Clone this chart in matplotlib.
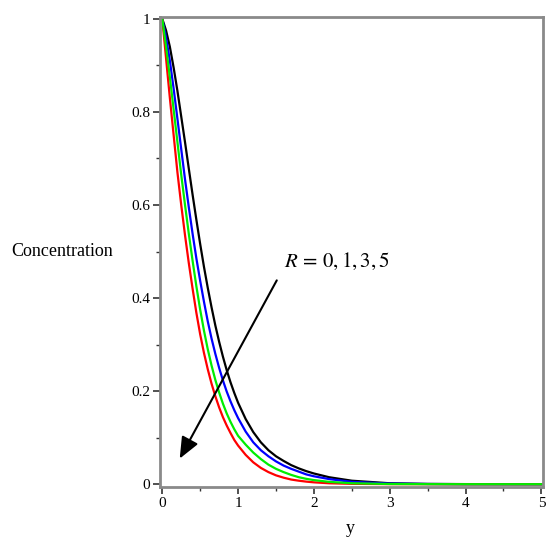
import numpy as np
import matplotlib.pyplot as plt
from matplotlib.ticker import MultipleLocator

# concentration profiles, read at these y positions
y_pts = np.array([0, 0.05, 0.1, 0.15, 0.2, 0.25, 0.3, 0.35, 0.4, 0.45, 0.5,
                  0.55, 0.6, 0.65, 0.7, 0.75, 0.8, 0.85, 0.9, 0.95, 1.0,
                  1.1, 1.2, 1.3, 1.4, 1.5, 1.6, 1.7, 1.8, 1.9, 2.0,
                  2.2, 2.5, 3.0, 3.5, 4.0, 5.0])

conc_R0 = np.array([1.0, 0.915, 0.83, 0.75, 0.67, 0.60, 0.535, 0.475, 0.42, 0.368, 0.322,
                    0.282, 0.247, 0.216, 0.189, 0.165, 0.144, 0.126, 0.110, 0.095, 0.083,
                    0.063, 0.047, 0.035, 0.026, 0.019, 0.014, 0.010, 0.0075, 0.0055, 0.004,
                    0.002, 0.0008, 0.0001, 0.0, 0.0, 0.0])
conc_R1 = np.array([1.0, 0.94, 0.875, 0.805, 0.735, 0.665, 0.60, 0.538, 0.48, 0.425, 0.375,
                    0.33, 0.29, 0.255, 0.224, 0.197, 0.173, 0.152, 0.134, 0.118, 0.104,
                    0.085, 0.068, 0.054, 0.042, 0.033, 0.026, 0.020, 0.015, 0.0115, 0.0088,
                    0.005, 0.002, 0.0004, 0.0001, 0.0, 0.0])
conc_R3 = np.array([1.0, 0.96, 0.91, 0.85, 0.785, 0.72, 0.655, 0.595, 0.538, 0.485, 0.437,
                    0.392, 0.35, 0.313, 0.28, 0.25, 0.223, 0.199, 0.178, 0.159, 0.142,
                    0.113, 0.09, 0.073, 0.06, 0.049, 0.040, 0.033, 0.027, 0.021, 0.017,
                    0.011, 0.005, 0.0013, 0.0004, 0.0001, 0.0])
conc_R5 = np.array([1.0, 0.975, 0.94, 0.895, 0.845, 0.79, 0.735, 0.678, 0.622, 0.568, 0.516,
                    0.467, 0.422, 0.38, 0.341, 0.306, 0.274, 0.245, 0.219, 0.196, 0.175,
                    0.14, 0.112, 0.09, 0.073, 0.06, 0.05, 0.041, 0.034, 0.028, 0.023,
                    0.015, 0.0075, 0.002, 0.0006, 0.0002, 0.0])

fig = plt.figure(figsize=(5.47, 5.39), dpi=100)
ax = fig.add_axes([0.2925, 0.0965, 0.70, 0.872])

lw = 1.6
ax.plot(y_pts, conc_R5, color='black', lw=lw)
ax.plot(y_pts, conc_R3, color='#0000ff', lw=lw)
ax.plot(y_pts, conc_R0, color='#ff0000', lw=lw)
ax.plot(y_pts, conc_R1, color='#00ee00', lw=lw)

ax.set_xlim(-0.03, 5.02)
ax.set_ylim(-0.006, 1.004)

for s in ax.spines.values():
    s.set_color('#8a8a8a')
    s.set_linewidth(2.0)

ax.xaxis.set_major_locator(MultipleLocator(1))
ax.xaxis.set_minor_locator(MultipleLocator(0.5))
ax.yaxis.set_major_locator(MultipleLocator(0.2))
ax.yaxis.set_minor_locator(MultipleLocator(0.1))
ax.tick_params(which='major', length=5, width=1.2, color='#333333', direction='out')
ax.tick_params(which='minor', length=3, width=1.0, color='#333333', direction='out')
ax.tick_params(labelsize=11, pad=2)
for lab in ax.get_xticklabels() + ax.get_yticklabels():
    lab.set_family('Liberation Serif')
ax.yaxis.set_major_formatter(plt.FuncFormatter(lambda v, p: '%g' % round(v, 1)))

ax.set_ylabel('Concentration', rotation=0, family='Liberation Serif', fontsize=13,
              va='center', ha='center')
ax.yaxis.set_label_coords(-0.256, 0.5)
ax.set_xlabel('y', family='Liberation Serif', fontsize=13, va='center')
ax.xaxis.set_label_coords(0.496, -0.088)

# arrow showing increasing R
ax.annotate('', xy=(0.23, 0.055), xytext=(1.51, 0.438),
            arrowprops=dict(arrowstyle='-|>,head_length=1.3,head_width=0.55',
                            color='black', lw=1.5, shrinkA=0, shrinkB=0))
plt.rcParams['mathtext.fontset'] = 'stix'
ax.text(1.6, 0.455, r'$R\,=\,0,1,3,5$', fontsize=15, ha='left', va='bottom')

fig.savefig('out.png', dpi=100)
